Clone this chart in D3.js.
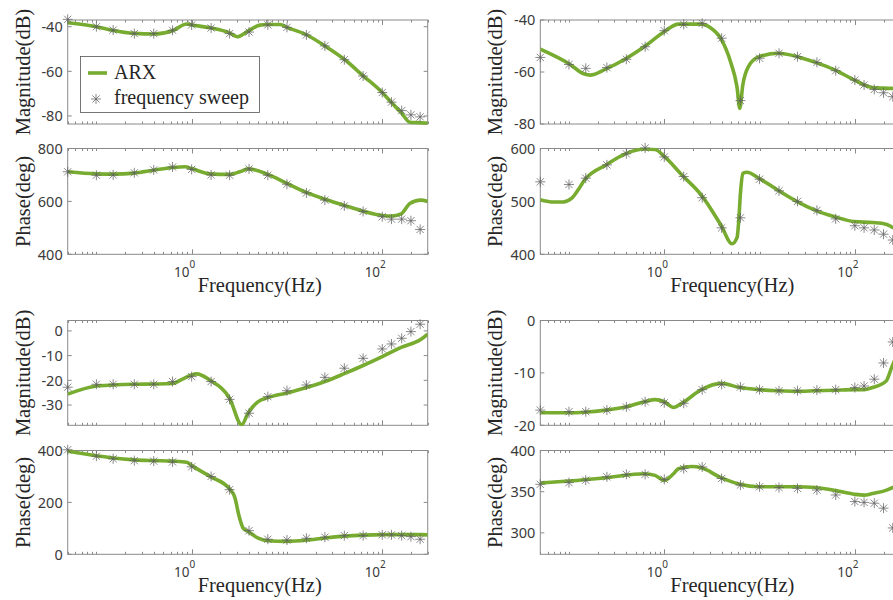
<!DOCTYPE html>
<html>
<head>
<meta charset="utf-8">
<title>ARX vs frequency sweep</title>
<script src="https://cdn.jsdelivr.net/npm/d3@7/dist/d3.min.js"></script>
<style>
	body { margin: 0; background: #fff; }
	.tick-label { font-family: "Noto Sans", "DejaVu Sans", sans-serif; fill: #3a3a3a; }
	.axis-title { font-family: "Liberation Serif", "DejaVu Serif", serif; fill: #262626; }
</style>
</head>
<body>
<svg id="chart" width="893" height="600"></svg>
<script>
// frequency sweep points (shared by all panels)
var sweepFreq = [0.05, 0.1, 0.15, 0.25, 0.4, 0.63, 1, 1.6, 2.5, 4, 6.3, 10, 16, 25, 40, 63, 100, 125, 160, 200, 250];

var sweepMag1 = [-36.7, -40, -41.5, -43.1, -43.1, -41.6, -39.2, -40.6, -43.1, -42.4, -39.2, -40.3, -43.7, -48.6, -54.8, -62.1, -69.5, -73.8, -77.6, -79.5, -80.4];
var sweepPhase1 = [712, 699, 700, 708, 719, 730, 721, 700, 699, 723, 699, 665, 632, 605, 583, 562, 542, 533, 533, 527, 494];
var sweepMag2 = [-54.4, -57.1, -58.6, -58.3, -55.1, -50.3, -44.1, -41.7, -41.3, -47, -71, -54.7, -52.8, -54.1, -56.3, -59.5, -63.1, -65, -66.7, -68, -69.5];
var sweepPhase2 = [537, 532, 544, 569, 590, 601, 584, 547, 507, 450, 469, 542, 520, 500, 483, 467, 454, 450, 446, 438, 427];
var sweepMag3 = [-22.8, -21.6, -21.6, -21.6, -21.6, -20.5, -18.5, -20.5, -27.7, -33.3, -26.6, -24.2, -21.9, -18.8, -15.1, -11.1, -7.3, -5.3, -3, -0.3, 2.7];
var sweepPhase3 = [403, 378, 368, 361, 359, 356, 337, 300, 249, 91, 58, 55, 62, 66, 72, 72, 75, 75, 72, 68, 58];
var sweepMag4 = [-17.1, -17.4, -17.4, -17.1, -16.5, -15.5, -15.7, -15.8, -13.2, -12.2, -12.7, -13.2, -13.4, -13.4, -13.3, -13.2, -12.8, -12.5, -11.2, -8.1, -4.1];
var sweepPhase4 = [359, 361, 364, 368, 371, 371, 365, 378, 380, 366, 358, 356, 355, 354, 352, 346, 338, 337, 336, 330, 306];

// ARX model curves
var arxFreqMag1 = [0.05, 0.1, 0.15, 0.25, 0.4, 0.63, 0.89, 1, 1.56, 2.5, 3, 3.9, 5.2, 6.3, 8.45, 10, 15.8, 25, 40, 63, 100, 125, 158, 195, 237, 300];
var arxMag1 = [-38.2, -40, -41.7, -43, -43.3, -41.8, -38.8, -39.2, -40.5, -42.8, -44.5, -42, -39.3, -39, -39, -40.3, -43.5, -48.6, -54.6, -62, -69.5, -74, -78.5, -82.8, -83, -83.2];
var arxFreqPhase1 = [0.05, 0.1, 0.15, 0.25, 0.4, 0.63, 0.85, 1, 1.56, 2.5, 3.2, 3.9, 6.3, 10, 15.8, 25, 40, 63, 100, 125, 158, 195, 253, 300];
var arxPhase1 = [712, 704, 703, 707, 718, 728, 731, 724, 704, 702, 712, 723, 702, 668, 635, 608, 585, 563, 547, 545, 553, 592, 605, 600];

var arxFreqMag2 = [0.05, 0.1, 0.145, 0.166, 0.245, 0.39, 0.62, 1, 1.41, 2.45, 3.05, 3.94, 4.95, 5.81, 6.2, 6.67, 7.7, 9.8, 15.6, 24.5, 38.6, 61.6, 97.7, 153, 243, 300];
var arxMag2 = [-51.2, -56.8, -60.8, -61.2, -58.8, -55, -50.2, -44.5, -41.6, -41.6, -43, -47.3, -56, -66, -74, -65, -57.7, -54.2, -52.8, -54, -56.3, -59.2, -63, -66, -66.3, -66.5];
var arxFreqPhase2 = [0.05, 0.066, 0.087, 0.107, 0.125, 0.145, 0.245, 0.39, 0.62, 0.8, 1, 1.53, 2.45, 3.94, 5.15, 5.81, 6.05, 6.3, 6.67, 7.4, 9.8, 15.6, 24.5, 38.6, 61.6, 97.7, 153, 212, 243, 300];
var arxPhase2 = [503, 499, 499, 506, 522, 540, 569, 590, 599, 598, 585, 550, 512, 455, 420, 432, 464, 515, 553, 555, 544, 521, 500, 483, 471, 462, 460, 457, 452, 445];

var arxFreqMag3 = [0.05, 0.1, 0.15, 0.25, 0.4, 0.63, 0.79, 1.13, 1.56, 2.5, 3.35, 3.9, 5, 6.3, 10, 15.8, 25, 40, 63, 100, 158, 253, 300];
var arxMag3 = [-25.6, -22.3, -21.9, -21.6, -21.5, -21.3, -19.6, -17.4, -20, -27.3, -38, -33.3, -28.6, -27, -25.1, -23, -20.5, -17.3, -14, -10.4, -6.7, -3.5, -1.3];
var arxFreqPhase3 = [0.05, 0.1, 0.15, 0.25, 0.4, 0.63, 0.89, 1, 1.56, 2.5, 2.85, 3.13, 3.48, 3.9, 5, 6.3, 10, 15.8, 25, 40, 63, 100, 253, 300];
var arxPhase3 = [397, 380, 371, 364, 361, 359, 355, 342, 300, 252, 217, 150, 100, 88, 62, 52, 50, 54, 63, 70, 74, 76, 76, 75];

var arxFreqMag4 = [0.05, 0.1, 0.145, 0.245, 0.39, 0.62, 0.8, 1, 1.25, 1.53, 2.45, 3.94, 6.2, 9.8, 15.6, 24.5, 38.6, 61.6, 97.7, 125, 153, 212, 243, 300];
var arxMag4 = [-17.6, -17.6, -17.5, -17.1, -16.5, -15.5, -15.1, -15.5, -16.6, -15.8, -13.2, -12, -12.8, -13.2, -13.4, -13.5, -13.4, -13.3, -13.2, -13.2, -12.8, -11.6, -9, -5];
var arxFreqPhase4 = [0.05, 0.1, 0.245, 0.62, 0.8, 1, 1.25, 1.41, 1.95, 2.45, 3.94, 6.2, 9.8, 24.5, 38.6, 61.6, 97.7, 125, 153, 212, 243, 300];
var arxPhase4 = [360.5, 363, 367, 371.8, 369.8, 363.7, 371.8, 377.8, 380.6, 379, 367, 359, 356, 356, 355, 351.6, 347, 345.8, 347.8, 351.6, 354.5, 358];

// y ticks per panel
var yTicksMag1 = [-80, -60, -40];
var yTicksPhase1 = [400, 600, 800];
var yTicksMag2 = [-80, -60, -40];
var yTicksPhase2 = [400, 500, 600];
var yTicksMag3 = [-30, -20, -10, 0];
var yTicksPhase3 = [0, 200, 400];
var yTicksMag4 = [-20, -10, 0];
var yTicksPhase4 = [300, 350, 400];

var xMajor = [1, 100];
var xDomain = [0.05, 300];
var green = '#77ac30';

var svg = d3.select('#chart');

var colX = [67.7, 540.3];
var plotW = 360;

var panels = [
	{ col: 0, top: 20, h: 104, dom: [-83.6, -37], ticks: yTicksMag1, label: 'Magnitude(dB)', sweep: sweepMag1, af: arxFreqMag1, av: arxMag1, xlab: false },
	{ col: 0, top: 148.5, h: 105.8, dom: [400, 800], ticks: yTicksPhase1, label: 'Phase(deg)', sweep: sweepPhase1, af: arxFreqPhase1, av: arxPhase1, xlab: true },
	{ col: 1, top: 20, h: 104, dom: [-80, -40], ticks: yTicksMag2, label: 'Magnitude(dB)', sweep: sweepMag2, af: arxFreqMag2, av: arxMag2, xlab: false },
	{ col: 1, top: 148.5, h: 105.8, dom: [400, 600], ticks: yTicksPhase2, label: 'Phase(deg)', sweep: sweepPhase2, af: arxFreqPhase2, av: arxPhase2, xlab: true },
	{ col: 0, top: 320.5, h: 104.8, dom: [-38.2, 4.2], ticks: yTicksMag3, label: 'Magnitude(dB)', sweep: sweepMag3, af: arxFreqMag3, av: arxMag3, xlab: false },
	{ col: 0, top: 450.5, h: 103.8, dom: [0, 400], ticks: yTicksPhase3, label: 'Phase(deg)', sweep: sweepPhase3, af: arxFreqPhase3, av: arxPhase3, xlab: true },
	{ col: 1, top: 320.5, h: 104.8, dom: [-20, 0], ticks: yTicksMag4, label: 'Magnitude(dB)', sweep: sweepMag4, af: arxFreqMag4, av: arxMag4, xlab: false },
	{ col: 1, top: 450.5, h: 103.8, dom: [274, 400], ticks: yTicksPhase4, label: 'Phase(deg)', sweep: sweepPhase4, af: arxFreqPhase4, av: arxPhase4, xlab: true }
];

// every 1..9 x 10^k inside the domain, for the log minor ticks
var xAllTicks = [];
for (var k = -2; k <= 2; k++) {
	for (var n = 1; n <= 9; n++) {
		var v = n * Math.pow(10, k);
		if (v >= xDomain[0] && v <= xDomain[1]) xAllTicks.push(+v.toPrecision(3));
	}
}

var asterisk = 'M-5,0H5M0,-5V5M-3.6,-3.6L3.6,3.6M-3.6,3.6L3.6,-3.6';
var axisCol = '#8a8a8a';

panels.forEach(function (p, i) {
	var x0 = colX[p.col];
	var x = d3.scaleLog().domain(xDomain).range([x0, x0 + plotW]);
	var y = d3.scaleLinear().domain(p.dom).range([p.top + p.h, p.top]);
	var g = svg.append('g');

	g.append('clipPath').attr('id', 'clip' + i)
		.append('rect')
		.attr('x', x0).attr('y', p.top - 1)
		.attr('width', plotW).attr('height', p.h + 2);

	// x ticks, inward on top and bottom
	xAllTicks.forEach(function (t) {
		var len = xMajor.indexOf(t) >= 0 ? 5 : 2.5;
		var xx = Math.round(x(t)) + 0.5;
		g.append('line').attr('x1', xx).attr('x2', xx)
			.attr('y1', p.top + p.h).attr('y2', p.top + p.h - len)
			.attr('stroke', axisCol);
		g.append('line').attr('x1', xx).attr('x2', xx)
			.attr('y1', p.top).attr('y2', p.top + len)
			.attr('stroke', axisCol);
	});

	// y ticks + labels
	p.ticks.forEach(function (t) {
		var yy = y(t);
		g.append('line').attr('x1', x0).attr('x2', x0 + 4)
			.attr('y1', yy).attr('y2', yy).attr('stroke', axisCol);
		g.append('line').attr('x1', x0 + plotW).attr('x2', x0 + plotW - 4)
			.attr('y1', yy).attr('y2', yy).attr('stroke', axisCol);
		g.append('text').attr('class', 'tick-label')
			.attr('x', x0 - 5).attr('y', yy).attr('dy', '0.36em')
			.attr('text-anchor', 'end')
			.style('font-size', '14.5px')
			.text(t);
	});

	// box
	g.append('rect')
		.attr('x', x0).attr('y', p.top)
		.attr('width', plotW).attr('height', p.h)
		.attr('fill', 'none').attr('stroke', axisCol);

	// y label
	var lx = x0 - 38;
	g.append('text').attr('class', 'axis-title')
		.attr('transform', 'translate(' + lx + ',' + (p.top + p.h / 2) + ') rotate(-90)')
		.attr('text-anchor', 'middle')
		.style('font-size', '20.5px')
		.text(p.label);

	// x tick labels and title under phase panels
	if (p.xlab) {
		xMajor.forEach(function (t) {
			var txt = g.append('text').attr('class', 'tick-label')
				.attr('x', x(t) - 7).attr('y', p.top + p.h + 22.5)
				.attr('text-anchor', 'middle')
				.style('font-size', '13.5px');
			txt.append('tspan').text('10');
			txt.append('tspan').attr('dy', -9).style('font-size', '10px')
				.text(Math.round(Math.log10(t)));
		});
		g.append('text').attr('class', 'axis-title')
			.attr('x', x0 + plotW / 2 + 12).attr('y', p.top + p.h + 37.5)
			.attr('text-anchor', 'middle')
			.style('font-size', '20.5px')
			.text('Frequency(Hz)');
	}

	// ARX line
	var line = d3.line()
		.x(function (d) { return x(d[0]); })
		.y(function (d) { return y(d[1]); })
		.curve(d3.curveMonotoneX);
	g.append('path')
		.datum(d3.zip(p.af, p.av))
		.attr('clip-path', 'url(#clip' + i + ')')
		.attr('d', line)
		.attr('fill', 'none')
		.attr('stroke', green)
		.attr('stroke-width', 3.6)
		.attr('stroke-linejoin', 'round');

	// sweep markers
	g.selectAll('path.sweep')
		.data(d3.zip(sweepFreq, p.sweep))
		.enter()
		.append('path')
		.attr('class', 'sweep')
		.attr('transform', function (d) { return 'translate(' + x(d[0]) + ',' + y(d[1]) + ')'; })
		.attr('d', asterisk)
		.attr('fill', 'none')
		.attr('stroke', '#606060')
		.attr('stroke-opacity', 0.75)
		.attr('stroke-width', 1);
});

// legend in the first panel
var leg = svg.append('g');
leg.append('rect')
	.attr('x', 80.5).attr('y', 56.5).attr('width', 179).attr('height', 56)
	.attr('fill', '#fff').attr('stroke', '#555').attr('stroke-width', 0.8);
leg.append('line')
	.attr('x1', 88).attr('x2', 107).attr('y1', 73).attr('y2', 73)
	.attr('stroke', green).attr('stroke-width', 3.6);
leg.append('text').attr('class', 'axis-title')
	.attr('x', 114).attr('y', 79).style('font-size', '20px')
	.text('ARX');
leg.append('path')
	.attr('transform', 'translate(96,99)')
	.attr('d', asterisk)
	.attr('fill', 'none').attr('stroke', '#606060').attr('stroke-opacity', 0.75);
leg.append('text').attr('class', 'axis-title')
	.attr('x', 114).attr('y', 104).style('font-size', '20px')
	.text('frequency sweep');
</script>
</body>
</html>
